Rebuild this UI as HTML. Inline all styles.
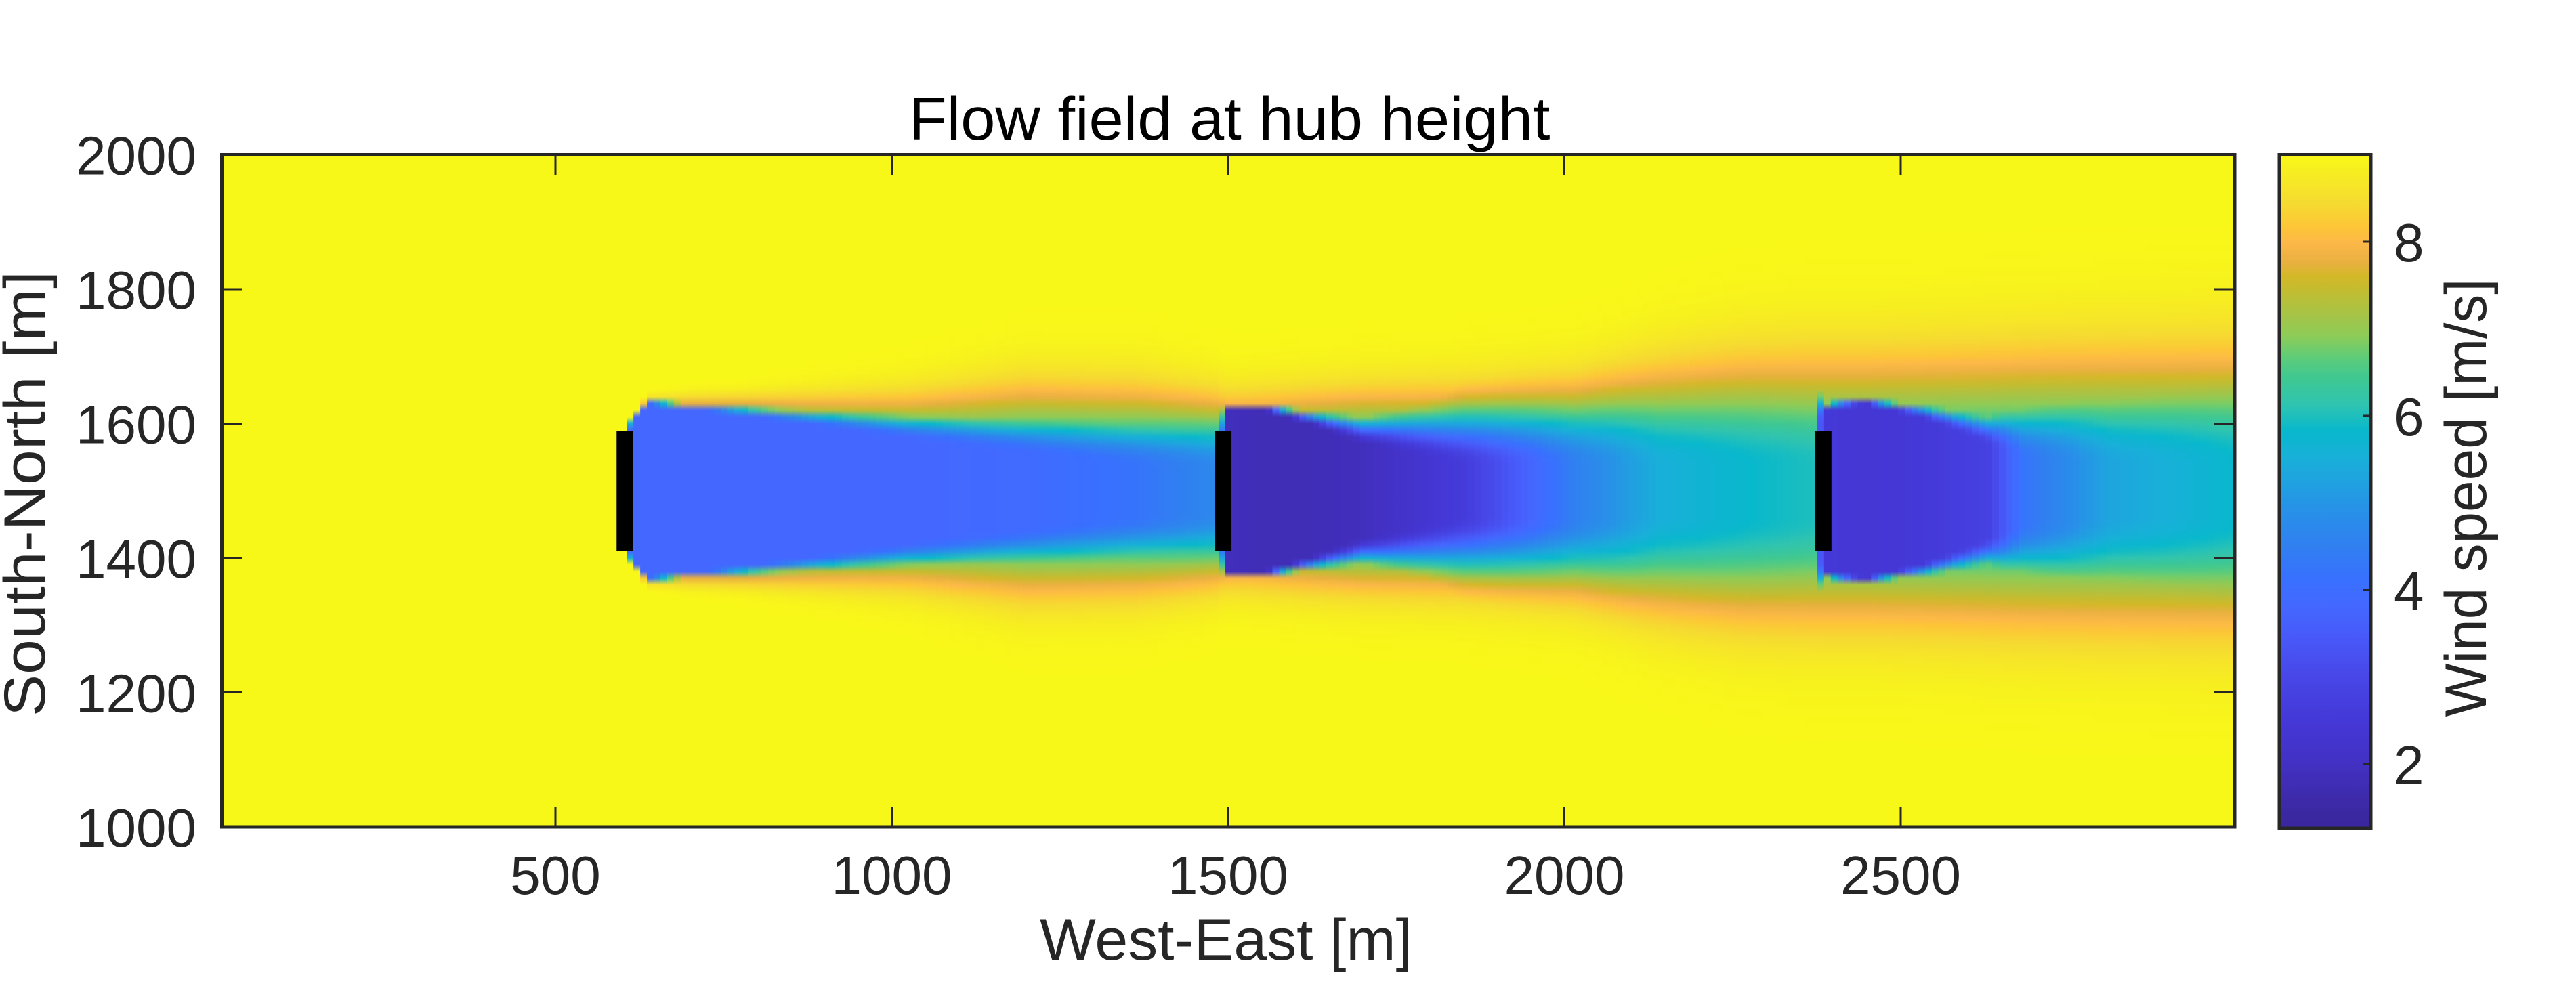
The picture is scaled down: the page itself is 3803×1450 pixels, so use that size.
<!DOCTYPE html>
<html><head><meta charset="utf-8"><title>Flow field at hub height</title>
<style>
html,body{margin:0;padding:0;background:#fff;}
svg{display:block;}
text{font-family:"Liberation Sans",sans-serif;fill:#262626;}
</style></head>
<body>
<svg id="chart" width="3803" height="1450" viewBox="0 0 3803 1450" xmlns="http://www.w3.org/2000/svg">
<defs id="defs"></defs>
<g id="field"></g>
<g id="turbines"></g>
<g id="axes"></g>
<g id="cbar"></g>
<text x="1815" y="206" text-anchor="middle" font-size="89" style="fill:#000" textLength="947" lengthAdjust="spacingAndGlyphs">Flow field at hub height</text>
<text x="1810" y="1417" text-anchor="middle" font-size="86" textLength="550" lengthAdjust="spacingAndGlyphs">West-East [m]</text>
<text transform="translate(66,729) rotate(-90)" text-anchor="middle" font-size="86" textLength="658" lengthAdjust="spacingAndGlyphs">South-North [m]</text>
<text transform="translate(3670,735) rotate(-90)" text-anchor="middle" font-size="86" textLength="647" lengthAdjust="spacingAndGlyphs">Wind speed [m/s]</text>
</svg>
<script>
// ---- data ----
const keyX   = [0, 595, 605, 635, 700, 780, 1025, 1200, 1360, 1480, 1488, 1495, 1550, 1620, 1700, 1850, 2015, 2140, 2265, 2375, 2383, 2450, 2530, 2630, 2680, 2810, 2996];
const coreC  = [9, 9, 3.8, 3.8, 3.8, 3.8, 3.8, 3.9, 4.2, 4.7, 4.7, 1.9, 1.8, 1.8, 1.9, 2.6, 4.5, 5.5, 5.8, 6.0, 2.5, 2.4, 2.5, 2.8, 4.2, 5.3, 5.8];
const coreH  = [0, 0, 90, 130, 122, 113, 77, 55, 40, 35, 35, 120, 122, 100, 70, 40, 40, 40, 40, 40, 125, 130, 110, 70, 50, 40, 40];
const coreS  = [1, 1, 3, 4, 6, 10, 35, 55, 70, 78, 78, 4, 5, 15, 35, 80, 95, 120, 135, 140, 4, 5, 15, 40, 80, 120, 145];
const wideC  = [9, 9, 9, 8, 7.5, 7, 6.5, 6, 5.5, 4.9, 4.8, 4.8, 4.9, 5.0, 5.0, 5.2, 5.5, 5.7, 5.8, 6.0, 6.0, 6.0, 6.0, 6.0, 6.0, 6.0, 6.0];
const wideH  = [0, 0, 0, 130, 122, 113, 77, 55, 40, 35, 35, 35, 35, 38, 40, 40, 40, 40, 40, 40, 40, 40, 40, 40, 40, 40, 40];
const wideS  = [1, 1, 1, 10, 18, 25, 60, 90, 95, 85, 82, 80, 82, 84, 86, 90, 100, 120, 135, 140, 140, 140, 142, 144, 146, 148, 150];
const turbX  = [603, 1493, 2385];
const turbY  = [1500, 1500, 1500];
const rotorD = [178, 178, 178];
const xTicks = [500, 1000, 1500, 2000, 2500];
const yTicks = [1000, 1200, 1400, 1600, 1800, 2000];
const cTicks = [2, 4, 6, 8];
const cMin = 1.26, cMax = 9.0;

// ---- layout ----
const PL = 327.5, PR = 3299, PT = 228.5, PB = 1221;
const XMIN = -4, XMAX = 2996, YMIN = 1000, YMAX = 2000;
const xs = v => 323.5 + (v - 0) * 0.993;
const ys = v => PB - (v - YMIN) * (PB - PT) / (YMAX - YMIN);
const CBL = 3365, CBR = 3500, CBT = 228.5, CBB = 1223;
const cs = v => CBB - (v - cMin) * (CBB - CBT) / (cMax - cMin);

const cmT = [0, 0.02, 0.09, 0.16, 0.23, 0.28, 0.33, 0.37, 0.42, 0.47, 0.51, 0.55, 0.59, 0.63, 0.67, 0.70, 0.73, 0.76, 0.80, 0.82, 0.84, 0.87, 0.89, 0.93, 1.0];
const cmC = ["#3a26a0","#3a28a0","#4230c0","#4438d8","#4848e8","#4858f8","#4468ff","#3870ff","#3080f0","#2890e8","#20a0e0","#18b0d8","#08b8cc","#30c4b0","#40c890","#60cc78","#8ccc58","#a4c448","#c4bc30","#d4b828","#e8b040","#fdb848","#fdc438","#f5dc30","#f8f818"];
function hex(h){return [parseInt(h.substr(1,2),16),parseInt(h.substr(3,2),16),parseInt(h.substr(5,2),16)];}
function cmap(v){
  let t=(v-cMin)/(cMax-cMin); t=Math.max(0,Math.min(1,t));
  let i=0; while(i<cmT.length-2 && t>cmT[i+1]) i++;
  const f=(t-cmT[i])/(cmT[i+1]-cmT[i]); const a=hex(cmC[i]), b=hex(cmC[i+1]);
  return "rgb("+a.map((c,k)=>Math.round(c+(b[k]-c)*f)).join(",")+")";
}
function interp(arr, x){
  let i=0; while(i<keyX.length-2 && x>keyX[i+1]) i++;
  const f=Math.max(0,Math.min(1,(x-keyX[i])/(keyX[i+1]-keyX[i])));
  return arr[i]+(arr[i+1]-arr[i])*f;
}
function prof(c,h,s,r){const rr=Math.max(0,r-h);return c+(9-c)*(1-Math.exp(-(rr/s)*(rr/s)));}

const NS="http://www.w3.org/2000/svg";
const defs=document.getElementById('defs');
const field=document.getElementById('field');
const bg=document.createElementNS(NS,'rect');


bg.setAttribute('x',PL);bg.setAttribute('y',PT);bg.setAttribute('width',PR-PL);bg.setAttribute('height',PB-PT);bg.setAttribute('fill',cmap(9));
field.appendChild(bg);
const DX=10;
for(let x0=XMIN; x0<XMAX; x0+=DX){
  const xc=x0+DX/2;
  const cc=interp(coreC,xc), ch=interp(coreH,xc), cS=interp(coreS,xc);
  const wc=interp(wideC,xc), wh=interp(wideH,xc), wS=interp(wideS,xc);
  if(cc>=8.99 && wc>=8.99) continue;
  const id='g'+Math.round(x0+10);
  const g=document.createElementNS(NS,'linearGradient');
  g.setAttribute('id',id);g.setAttribute('x1','0');g.setAttribute('x2','0');g.setAttribute('y1','0');g.setAttribute('y2','1');
  for(let dy=500; dy>=-500; dy-=10){
    const r=Math.abs(dy);
    const v=Math.min(prof(cc,ch,cS,r),prof(wc,wh,wS,r));
    const st=document.createElementNS(NS,'stop');
    st.setAttribute('offset',((YMAX-(1500+dy))/(YMAX-YMIN)).toFixed(3));
    st.setAttribute('stop-color',cmap(v));
    g.appendChild(st);
  }
  defs.appendChild(g);
  const rc=document.createElementNS(NS,'rect');
  
  
  const xa=Math.max(PL,xs(x0)), xb=Math.min(PR,xs(x0+DX));
  rc.setAttribute('x',xa);rc.setAttribute('width',xb-xa+0.6);
  rc.setAttribute('y',PT);rc.setAttribute('height',PB-PT);
  rc.setAttribute('fill','url(#'+id+')');
  field.appendChild(rc);
}
const tg=document.getElementById('turbines');
for(let i=0;i<turbX.length;i++){
  const r=document.createElementNS(NS,'rect');
  
  
  r.setAttribute('x',xs(turbX[i])-12);r.setAttribute('width',24);
  r.setAttribute('y',ys(turbY[i]+rotorD[i]/2));r.setAttribute('height',ys(turbY[i]-rotorD[i]/2)-ys(turbY[i]+rotorD[i]/2));
  r.setAttribute('fill','#000');
  tg.appendChild(r);
}
const ax=document.getElementById('axes');
function line(x1,y1,x2,y2,w,name){
  const l=document.createElementNS(NS,'line');
  
  
  l.setAttribute('x1',x1);l.setAttribute('y1',y1);l.setAttribute('x2',x2);l.setAttribute('y2',y2);
  l.setAttribute('stroke','#262626');l.setAttribute('stroke-width',w);
  ax.appendChild(l);
}
function text(x,y,s,anchor,name){
  const t=document.createElementNS(NS,'text');
  
  
  t.setAttribute('x',x);t.setAttribute('y',y);t.setAttribute('text-anchor',anchor);t.setAttribute('font-size','80');
  t.textContent=s; ax.appendChild(t);
}
const box=document.createElementNS(NS,'rect');


box.setAttribute('x',PL);box.setAttribute('y',PT);box.setAttribute('width',PR-PL);box.setAttribute('height',PB-PT);
box.setAttribute('fill','none');box.setAttribute('stroke','#262626');box.setAttribute('stroke-width',5);
ax.appendChild(box);
xTicks.forEach(v=>{const X=xs(v);line(X,PB,X,PB-30,3,'x-tick');line(X,PT,X,PT+30,3,'x-tick-top');text(X,1320,String(v),'middle','x-tick-label');});
yTicks.forEach(v=>{const Y=ys(v);line(PL,Y,PL+30,Y,3,'y-tick');line(PR,Y,PR-30,Y,3,'y-tick-right');text(290,Y+29,String(v),'end','y-tick-label');});
const cb=document.getElementById('cbar');
const cg=document.createElementNS(NS,'linearGradient');
cg.setAttribute('id','cbgrad');cg.setAttribute('x1','0');cg.setAttribute('x2','0');cg.setAttribute('y1','1');cg.setAttribute('y2','0');
for(let i=0;i<cmT.length;i++){const st=document.createElementNS(NS,'stop');st.setAttribute('offset',cmT[i]);st.setAttribute('stop-color',cmC[i]);cg.appendChild(st);}
defs.appendChild(cg);
const cr=document.createElementNS(NS,'rect');


cr.setAttribute('x',CBL);cr.setAttribute('y',CBT);cr.setAttribute('width',CBR-CBL);cr.setAttribute('height',CBB-CBT);
cr.setAttribute('fill','url(#cbgrad)');cr.setAttribute('stroke','#262626');cr.setAttribute('stroke-width',5);
cb.appendChild(cr);
cTicks.forEach(v=>{
  const Y=cs(v);
  const l=document.createElementNS(NS,'line');
  
  
  l.setAttribute('x1',CBR);l.setAttribute('x2',CBR-12);l.setAttribute('y1',Y);l.setAttribute('y2',Y);
  l.setAttribute('stroke','#262626');l.setAttribute('stroke-width',3);cb.appendChild(l);
  const t=document.createElementNS(NS,'text');
  
  
  t.setAttribute('x',3534);t.setAttribute('y',Y+29);t.setAttribute('font-size','80');
  t.textContent=String(v);cb.appendChild(t);
});
</script>
</body></html>
